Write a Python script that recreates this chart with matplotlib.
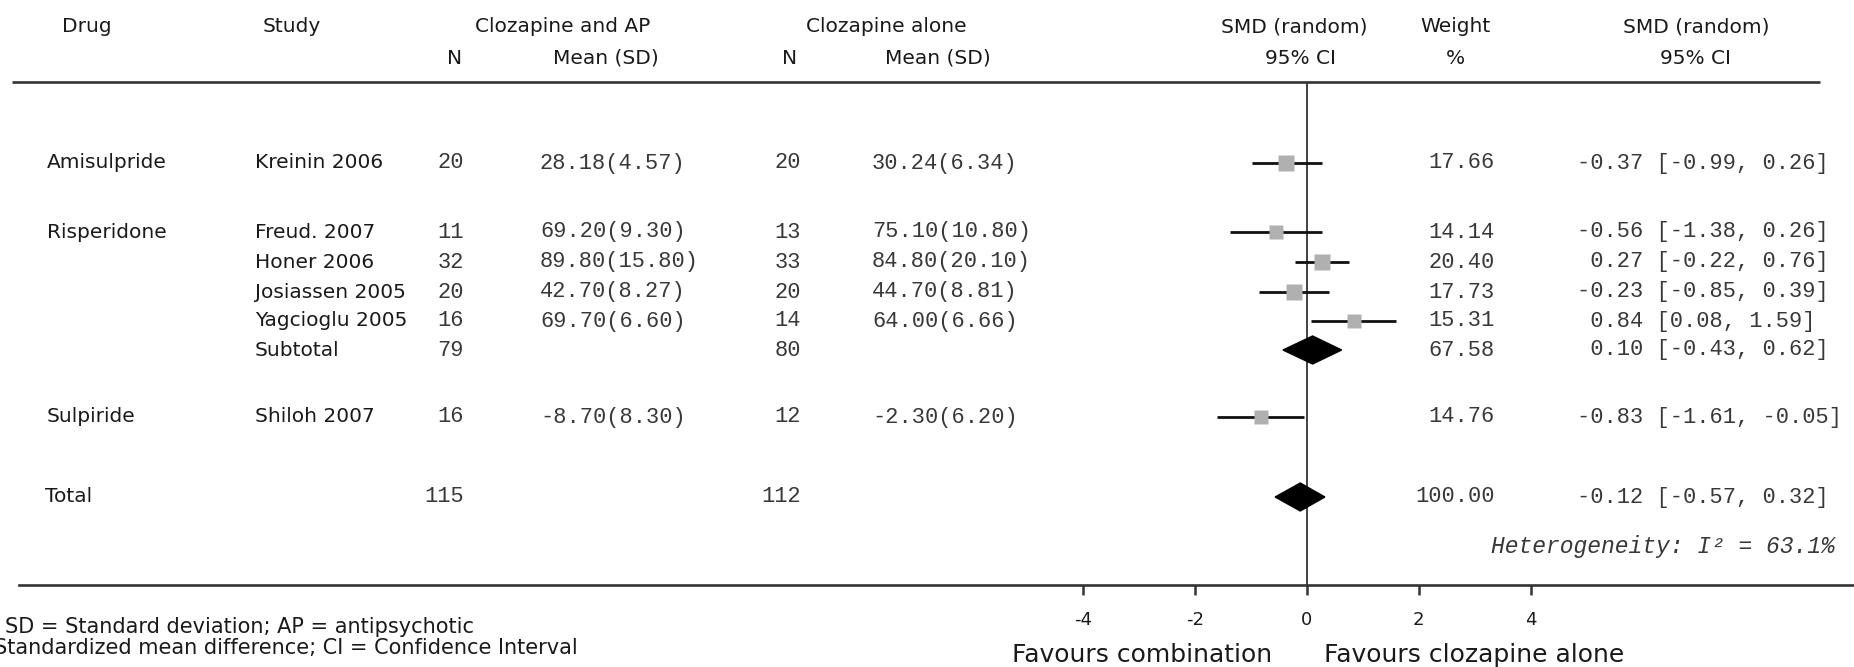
import matplotlib
matplotlib.use("Agg")
import matplotlib.pyplot as plt
from matplotlib.patches import Polygon

plt.rcParams['axes.unicode_minus'] = False

# Data
drugs = ["Amisulpride", "Risperidone", "", "", "", "", "Sulpiride"]
studies = ["Kreinin 2006", "Freud. 2007", "Honer 2006", "Josiassen 2005",
           "Yagcioglu 2005", "Subtotal", "Shiloh 2007"]
n_comb = [20, 11, 32, 20, 16, 79, 16]
mean_comb = [28.18, 69.20, 89.80, 42.70, 69.70, None, -8.70]
sd_comb = [4.57, 9.30, 15.80, 8.27, 6.60, None, 8.30]
n_cloz = [20, 13, 33, 20, 14, 80, 12]
mean_cloz = [30.24, 75.10, 84.80, 44.70, 64.00, None, -2.30]
sd_cloz = [6.34, 10.80, 20.10, 8.81, 6.66, None, 6.20]
smd = [-0.37, -0.56, 0.27, -0.23, 0.84, 0.10, -0.83]
ci_lo = [-0.99, -1.38, -0.22, -0.85, 0.08, -0.43, -1.61]
ci_hi = [0.26, 0.26, 0.76, 0.39, 1.59, 0.62, -0.05]
weight = [17.66, 14.14, 20.40, 17.73, 15.31, 67.58, 14.76]
is_pooled = [False, False, False, False, False, True, False]

total_n_comb = 115
total_n_cloz = 112
total_smd, total_lo, total_hi = -0.12, -0.57, 0.32
total_weight = 100.00
i2 = 63.1
xticks = [-4, -2, 0, 2, 4]

# layout (figure pixels, y downward)
W, H = 1854, 667
row_y = [163, 232, 262, 292, 321, 350, 417]
total_y = 497
top_line_y = 82
axis_y = 585
zero_px = 1307
px_per_unit = 55.9

sans = "DejaVu Sans"
mono = "Liberation Mono"
txt_col = "#1a1a1a"
num_col = "#383838"
fs = 14.5
fs_num = 15.8

fig = plt.figure(figsize=(W / 100, H / 100), dpi=100)

# text layer in pixel coordinates
lay = fig.add_axes([0, 0, 1, 1])
lay.set_xlim(0, W)
lay.set_ylim(H, 0)
lay.axis("off")

def t(x, y, s, ha="left", family=sans, size=fs, color=txt_col, **kw):
    lay.text(x, y, s, ha=ha, va="center", family=family, fontsize=size,
             color=color, **kw)

# headers
t(62, 27, "Drug")
t(263, 27, "Study")
t(563, 27, "Clozapine and AP", ha="center")
t(455, 58, "N", ha="center")
t(606, 58, "Mean (SD)", ha="center")
t(886, 27, "Clozapine alone", ha="center")
t(790, 58, "N", ha="center")
t(938, 58, "Mean (SD)", ha="center")
t(1294, 27, "SMD (random)", ha="center")
t(1301, 58, "95% CI", ha="center")
t(1455, 27, "Weight", ha="center")
t(1455, 58, "%", ha="center")
t(1696, 27, "SMD (random)", ha="center")
t(1696, 58, "95% CI", ha="center")
lay.plot([12, 1820], [top_line_y, top_line_y], color="#333333", lw=1.9,
         solid_capstyle="butt")

# table rows
for i, y in enumerate(row_y):
    if drugs[i]:
        t(47, y, drugs[i])
    t(255, y, studies[i])
    t(464, y, str(n_comb[i]), ha="right", family=mono, size=fs_num, color=num_col)
    t(801, y, str(n_cloz[i]), ha="right", family=mono, size=fs_num, color=num_col)
    if mean_comb[i] is not None:
        t(540, y, f"{mean_comb[i]:.2f}({sd_comb[i]:.2f})", family=mono,
          size=fs_num, color=num_col)
        t(872, y, f"{mean_cloz[i]:.2f}({sd_cloz[i]:.2f})", family=mono,
          size=fs_num, color=num_col)
    t(1495, y, f"{weight[i]:.2f}", ha="right", family=mono, size=fs_num, color=num_col)
    t(1577, y, f"{smd[i]:5.2f} [{ci_lo[i]:.2f}, {ci_hi[i]:.2f}]", family=mono,
      size=fs_num, color=num_col)

t(45, total_y, "Total")
t(464, total_y, str(total_n_comb), ha="right", family=mono, size=fs_num, color=num_col)
t(801, total_y, str(total_n_cloz), ha="right", family=mono, size=fs_num, color=num_col)
t(1495, total_y, f"{total_weight:.2f}", ha="right", family=mono, size=fs_num, color=num_col)
t(1577, total_y, f"{total_smd:5.2f} [{total_lo:.2f}, {total_hi:.2f}]", family=mono,
  size=fs_num, color=num_col)
t(1835, 547, f"Heterogeneity: I\u00b2 = {i2:.1f}%", ha="right", family=mono,
  size=16.6, color=num_col, style="italic")

# footnotes (cut off at the left edge like the source)
t(474, 627, "SD = Standard deviation; AP = antipsychotic", ha="right", size=15)
t(578, 648, "SMD = Standardized mean difference; CI = Confidence Interval",
  ha="right", size=15)

# forest panel
left_px = 19
x0 = (left_px - zero_px) / px_per_unit
x1 = (W - zero_px) / px_per_unit
ax = fig.add_axes([left_px / W, (H - axis_y) / H, (W - left_px) / W,
                   (axis_y - top_line_y) / H])
ax.patch.set_alpha(0)
ax.set_xlim(x0, x1)
ax.set_ylim(axis_y, top_line_y)
for s in ["top", "left", "right"]:
    ax.spines[s].set_visible(False)
ax.spines["bottom"].set_linewidth(1.9)
ax.spines["bottom"].set_color("#333333")
ax.set_yticks([])
ax.set_xticks(xticks)
ax.set_xticklabels([str(v) for v in xticks], family=sans, fontsize=13, color=txt_col)
ax.tick_params(axis="x", length=7, width=1.8, color="#333333", pad=11.5)
ax.axvline(0, color="#333333", lw=1.3, zorder=1)

for i, y in enumerate(row_y):
    if is_pooled[i]:
        ax.add_patch(Polygon([(ci_lo[i], y), (smd[i], y - 14), (ci_hi[i], y),
                              (smd[i], y + 14)], closed=True, color="black", zorder=3))
    else:
        ax.plot([ci_lo[i], ci_hi[i]], [y, y], color="#111111", lw=2.0,
                solid_capstyle="butt", zorder=2)
        side = 3.57 * weight[i] ** 0.5
        ax.plot([smd[i]], [y], marker="s", ms=side * 0.72, color="#b0b0b0",
                mec="none", zorder=3)

ax.add_patch(Polygon([(total_lo, total_y), (total_smd, total_y - 14), (total_hi, total_y),
                      (total_smd, total_y + 14)], closed=True, color="black", zorder=3))

t(1272, 655, "Favours combination", ha="right", size=18)
t(1324, 655, "Favours clozapine alone", size=18)

fig.savefig("out.png", dpi=100)
